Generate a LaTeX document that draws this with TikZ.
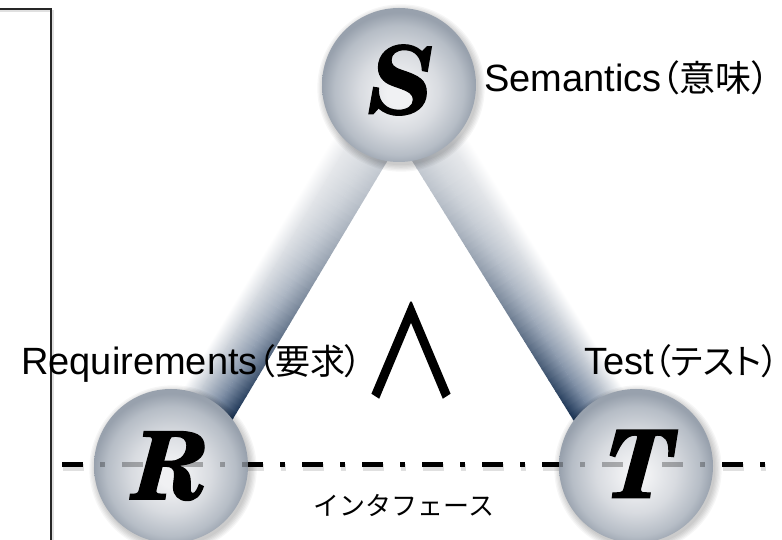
\documentclass[tikz,border=0pt]{standalone}
\usepackage{fontspec}
\usepackage{graphicx}
\setmainfont{Liberation Sans}
\newfontfamily\jpfont[RawFeature=+palt]{Noto Sans CJK JP}
\newfontfamily\jpplain{Noto Sans CJK JP}
\newfontfamily\jpheavy[FakeBold=2]{Noto Sans CJK JP}
\newfontfamily\letterfont[FakeBold=1.2]{texgyreschola-bolditalic.otf}
\usetikzlibrary{calc}

\definecolor{balla}{HTML}{F0F1F3}
\definecolor{ballb}{HTML}{D8DBE0}
\definecolor{ballc}{HTML}{B6BDC6}
\definecolor{balld}{HTML}{98A1AD}
\pgfdeclareradialshading{ballshade}{\pgfpoint{0bp}{-3bp}}{%
  color(0bp)=(balla); color(4bp)=(balla); color(13bp)=(ballb);
  color(21bp)=(ballc); color(25bp)=(balld); color(50bp)=(balld)}

\definecolor{hlA}{HTML}{E6E8EB}\definecolor{hlB}{HTML}{C3CAD3}
\definecolor{mdA}{HTML}{D6DADF}\definecolor{mdB}{HTML}{71839C}
\definecolor{inA}{HTML}{C2C8D0}\definecolor{inB}{HTML}{1A3354}

\tikzset{
  ball/.style={circle, minimum size=154pt, inner sep=0pt, shading=ballshade},
  letter/.style={inner sep=0pt, font=\letterfont\fontsize{94}{94}\selectfont},
  lbl/.style={inner sep=0pt, anchor=base west, font=\fontsize{38}{40}\selectfont},
  dashline/.style={line width=5pt, dash pattern=on 21pt off 17pt on 5pt off 17pt},
  frameline/.style={line width=1.4pt, draw=black!85},
}
\newcommand{\drawbarstrips}[1]{%
  \foreach \i in {0,...,49}{%
    \pgfmathsetmacro\bdu{(#1-120)/50}%
    \pgfmathsetmacro\bua{60+\i*\bdu}%
    \pgfmathsetmacro\bub{\bua+\bdu+0.8}%
    \pgfmathsetmacro\btq{max(0.001,min(1,(\bua+0.5*\bdu-75)/(#1-150)))}%
    \pgfmathtruncatemacro\bpp{100*\btq^1.4}%
    \colorlet{hlc}{hlB!\bpp!hlA}%
    \colorlet{mdc}{mdB!\bpp!mdA}%
    \colorlet{inc}{inB!\bpp!inA}%
    \shade[bottom color=white, top color=hlc] (\bua,-30) rectangle (\bub,-13);
    \shade[bottom color=hlc, top color=mdc] (\bua,-13.3) rectangle (\bub,10);
    \shade[bottom color=mdc, top color=inc] (\bua,9.7) rectangle (\bub,29);
  }}

\begin{document}
\begin{tikzpicture}[x=1pt,y=1pt]
\useasboundingbox[fill=white] (0,0) rectangle (782,540);

\coordinate (cS) at (399,455);
\coordinate (cR) at (171,74);
\coordinate (cT) at (636,74);
\coordinate (d0) at (62,75);
\coordinate (d1) at (776,75);
\coordinate (f0) at (0,531);
\coordinate (f1) at (51,531);
\coordinate (f2) at (51,0);

% frame
\draw[line width=2pt, draw=black, draw opacity=0.12] ($(f0)+(0,-2)$) -- ($(f1)+(2,-2)$) -- ($(f2)+(2,0)$);
\draw[frameline] (f0) -- (f1) -- (f2);

% bars S-R and S-T
\begin{scope}[transform canvas={shift={(cS)}, rotate=239.1}]
  \drawbarstrips{444}
\end{scope}
\begin{scope}[transform canvas={shift={(cS)}, rotate=-58.11, yscale=-1}]
  \drawbarstrips{448.7}
\end{scope}

% dashed interface line and its shadow
\draw[dashline, draw opacity=0.12, line width=7pt] ($(d0)+(1,-3)$) -- ($(d1)+(1,-3)$);
\draw[dashline] (d0) -- (d1);

% ball shadows
\foreach \c in {cS,cR,cT}{
  \foreach \k in {1,...,6}{
    \fill[black, opacity=0.035] ($(\c)+(2,-3)$) circle[radius={(85-1.3*\k)*1pt}];
  }}

% balls
\node[ball] (S) at (cS) {};
\node[ball] (R) at (cR) {};
\node[ball] (T) at (cT) {};

% faint dashes seen through the balls
\begin{scope}
  \clip (cR) circle[radius=77pt] (cT) circle[radius=77pt];
  \draw[dashline, draw opacity=0.28] (d0) -- (d1);
\end{scope}

% letters
\node[letter] (Sl) at (401,460) {S};
\node[letter] (Rl) at (171,74) {R};
\node[letter] (Tl) at (640,76) {T};

% labels
\node[lbl] (lS) at (484,448) {Semantics{\jpfont\fontsize{36}{36}\selectfont （意味）}};
\node[lbl] (lR) at (21,165) {Requirements{\jpfont\fontsize{35}{36}\selectfont （要求）}};
\node[lbl] (lT) at (584,165) {Test{\jpfont\fontsize{35}{36}\selectfont （テスト）}};
\node[inner sep=0pt, anchor=base, font=\jpplain\fontsize{26}{30}\selectfont] (lI) at (404,24) {インタフェース};
\node[inner sep=0pt, font=\jpheavy\fontsize{130}{130}\selectfont] (andsym) at (411,190) {\scalebox{0.76}[0.93]{∧}};
\end{tikzpicture}
\end{document}
